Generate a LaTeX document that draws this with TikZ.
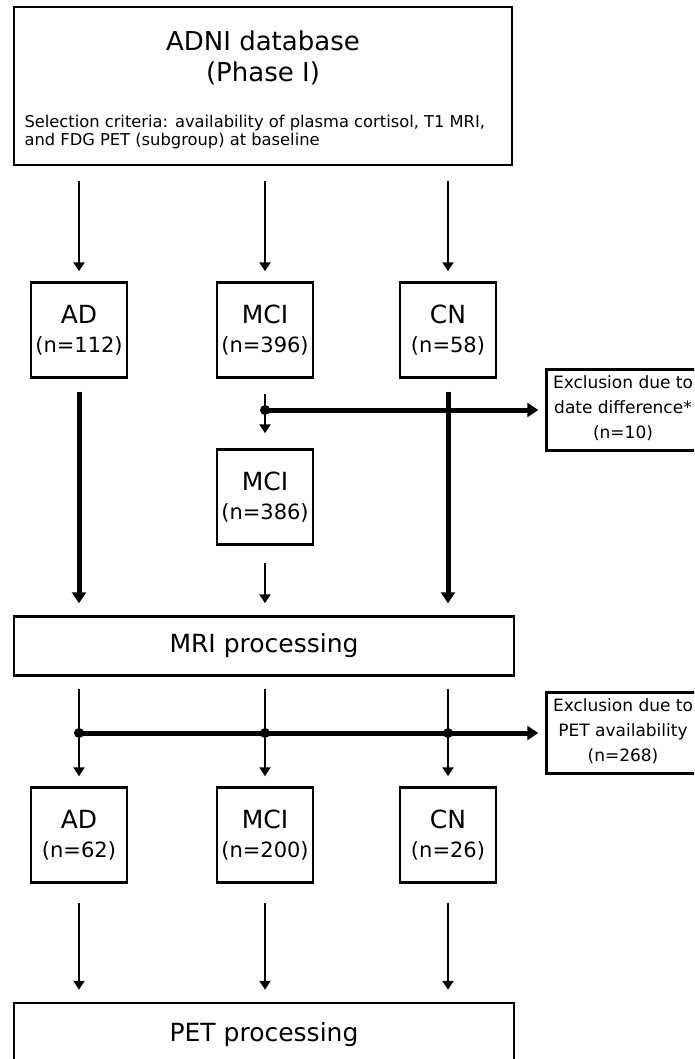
\documentclass[tikz,border=0pt]{standalone}
\usepackage{fontspec}
\setmainfont{DejaVu Sans}
\usetikzlibrary{arrows.meta}
\newcommand{\grouplabel}[2]{{\fontsize{25}{29}\selectfont #1}\\(n=#2)}
\tikzset{x=1pt, y=-1pt,
  thin tip/.tip={Triangle[length=9pt, width=11pt]},
  thick tip/.tip={Triangle[length=11pt, width=14pt]},
  box/.style={draw, line width=2.5pt, align=center, inner sep=0pt},
  group/.style={box, minimum width=96pt, minimum height=95pt, font=\fontsize{21}{29}\selectfont},
  stage/.style={box, minimum width=500pt, font=\fontsize{25}{30}\selectfont},
  excl/.style={box, minimum width=173pt, minimum height=81pt},
  excltext/.style={align=center, inner sep=0pt, font=\fontsize{17}{22}\selectfont},
  flow/.style={line width=2.5pt, -thin tip},
  main/.style={line width=5pt, -thick tip},
  split/.style={circle, fill, inner sep=0pt, minimum size=10pt}}

\begin{document}
\begin{tikzpicture}
    \useasboundingbox (0,0) rectangle (694,1059);
    \clip (0,0) rectangle (694,1059);
    % source
    \node[box, minimum width=498pt, minimum height=158pt] (adni) at (263,86) {};
    \node[align=center, font=\fontsize{26}{31}\selectfont] (title) at (263,58) {ADNI database\\(Phase I)};
    \node[align=left, anchor=west, font=\fontsize{16.3}{18}\selectfont] (crit) at (21,132)
        {Selection criteria: availability of plasma cortisol, T1 MRI,\\and FDG PET (subgroup) at baseline};

    % groups at baseline
    \node[group] (ad1) at (79,330) {\grouplabel{AD}{112}};
    \node[group] (mci1) at (265,330) {\grouplabel{MCI}{396}};
    \node[group] (cn1) at (448,330) {\grouplabel{CN}{58}};
    \node[excl] (excl1) at (633,410) {};
    \node[excltext] (excl1txt) at (623,408) {Exclusion due to\\[3pt]date difference*\\[3pt](n=10)};
    \node[group] (mci2) at (265,497) {\grouplabel{MCI}{386}};
    \node[stage, minimum height=59pt] (mri) at (264,646) {MRI processing};
    \node[excl] (excl2) at (633,733) {};
    \node[excltext] (excl2txt) at (623,731) {Exclusion due to\\[3pt]PET availability\\[3pt](n=268)};

    % PET subgroup
    \node[group] (ad2) at (79,835) {\grouplabel{AD}{62}};
    \node[group] (mci2b) at (265,835) {\grouplabel{MCI}{200}};
    \node[group] (cn2) at (448,835) {\grouplabel{CN}{26}};
    \node[stage, minimum height=64pt] (pet) at (264,1035) {PET processing};

    \node[split] (s1) at (mci1 |- excl1) {};
    \node[split] (s2a) at (ad2 |- excl2) {};
    \node[split] (s2b) at (mci2b |- excl2) {};
    \node[split] (s2c) at (cn2 |- excl2) {};

    \foreach \g in {ad1, mci1, cn1}
        \draw[flow, shorten <=15pt, shorten >=10pt] (adni.south -| \g) -- (\g.north);
    \draw[flow, -, shorten <=15pt] (mci1.south) -- (s1.center);
    \draw[flow, shorten >=15pt] (s1.center) -- (mci2.north);
    \draw[main, shorten >=7pt] (s1.center) -- (excl1.west);
    \draw[main, shorten <=13pt, shorten >=12pt] (ad1.south) -- (mri.north -| ad1);
    \draw[main, shorten <=13pt, shorten >=12pt] (cn1.south) -- (mri.north -| cn1);
    \draw[flow, shorten <=17pt, shorten >=12pt] (mci2.south) -- (mri.north -| mci2);

    \foreach \s/\g in {s2a/ad2, s2b/mci2b, s2c/cn2} {
        \draw[flow, -, shorten <=12pt] (mri.south -| \g) -- (\s.center);
        \draw[flow, shorten >=10pt] (\s.center) -- (\g.north);
        \draw[flow, shorten <=19pt, shorten >=12pt] (\g.south) -- (pet.north -| \g);
    }
    \draw[main, shorten >=7pt] (s2a.center) -- (excl2.west);
\end{tikzpicture}
\end{document}
